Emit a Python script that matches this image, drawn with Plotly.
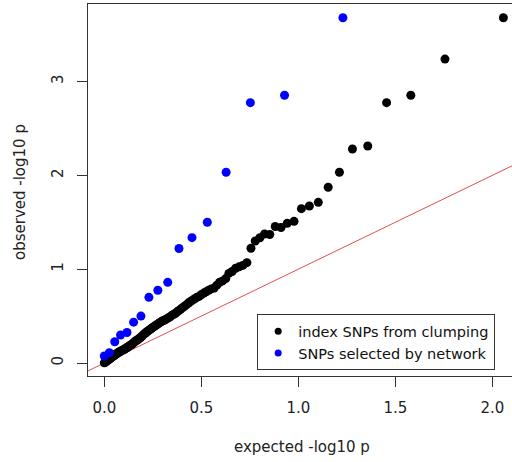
import plotly.graph_objects as go

# Expected -log10 p and observed -log10 p
index_expected = [2.057, 1.756, 1.580, 1.455, 1.358, 1.279, 1.212, 1.154, 1.103, 1.057,
                  1.016, 0.978, 0.943, 0.911, 0.881, 0.853, 0.826, 0.802, 0.778, 0.756,
                  0.735, 0.714, 0.695, 0.677, 0.659, 0.642, 0.626, 0.610, 0.594, 0.580,
                  0.566, 0.552, 0.538, 0.525, 0.513, 0.501, 0.489, 0.477, 0.466, 0.455,
                  0.444, 0.434, 0.423, 0.413, 0.404, 0.394, 0.385, 0.376, 0.367, 0.358,
                  0.349, 0.341, 0.333, 0.325, 0.317, 0.309, 0.301, 0.293, 0.286, 0.279,
                  0.272, 0.265, 0.258, 0.251, 0.244, 0.237, 0.231, 0.224, 0.218, 0.212,
                  0.206, 0.200, 0.194, 0.188, 0.182, 0.176, 0.170, 0.165, 0.159, 0.154,
                  0.148, 0.143, 0.138, 0.133, 0.127, 0.122, 0.117, 0.112, 0.108, 0.103,
                  0.098, 0.093, 0.088, 0.084, 0.079, 0.075, 0.070, 0.066, 0.061, 0.057,
                  0.053, 0.048, 0.044, 0.040, 0.036, 0.032, 0.028, 0.024, 0.020, 0.016,
                  0.012, 0.008, 0.004, 0.000]
index_observed = [3.68, 3.24, 2.854, 2.775, 2.313, 2.281, 2.033, 1.873, 1.713, 1.674,
                  1.645, 1.51, 1.489, 1.445, 1.455, 1.37, 1.375, 1.335, 1.30, 1.223,
                  1.07, 1.04, 1.025, 1.01, 0.975, 0.955, 0.90, 0.875, 0.86, 0.83,
                  0.80, 0.79, 0.775, 0.76, 0.745, 0.73, 0.71, 0.70, 0.685, 0.67,
                  0.655, 0.64, 0.62, 0.605, 0.59, 0.575, 0.56, 0.545, 0.53, 0.52,
                  0.51, 0.495, 0.485, 0.475, 0.465, 0.455, 0.45, 0.44, 0.43, 0.42,
                  0.41, 0.40, 0.39, 0.38, 0.37, 0.36, 0.35, 0.34, 0.33, 0.32,
                  0.31, 0.30, 0.285, 0.275, 0.265, 0.255, 0.245, 0.24, 0.23, 0.22,
                  0.21, 0.20, 0.195, 0.185, 0.18, 0.17, 0.165, 0.16, 0.15, 0.145,
                  0.14, 0.135, 0.13, 0.125, 0.12, 0.115, 0.11, 0.10, 0.095, 0.09,
                  0.085, 0.075, 0.07, 0.065, 0.06, 0.05, 0.045, 0.04, 0.03, 0.025,
                  0.02, 0.012, 0.006, 0.002]

network_expected = [1.230, 0.929, 0.753, 0.628, 0.531, 0.452, 0.385, 0.327, 0.276,
                    0.230, 0.189, 0.151, 0.117, 0.084, 0.054, 0.026, 0.000]
network_observed = [3.68, 2.854, 2.775, 2.033, 1.50, 1.336, 1.22, 0.86, 0.775,
                    0.70, 0.50, 0.435, 0.325, 0.298, 0.227, 0.11, 0.075]

series_names = ["index SNPs from clumping", "SNPs selected by network"]
series_colors = ["black", "#0000ff"]

diag = [-0.2, 2.3]

x_ticks = [0, 0.5, 1, 1.5, 2]
x_ticklabels = ["0.0", "0.5", "1.0", "1.5", "2.0"]
y_ticks = [0, 1, 2, 3]
y_ticklabels = ["0", "1", "2", "3"]

FONT = "DejaVu Sans"
FS = 15

fig = go.Figure()
fig.add_trace(go.Scatter(x=diag, y=diag, mode="lines",
                         line=dict(color="#e05050", width=1), showlegend=False,
                         hoverinfo="skip"))
fig.add_trace(go.Scatter(x=index_expected, y=index_observed, mode="markers",
                         marker=dict(color=series_colors[0], size=9, line=dict(width=0)),
                         name=series_names[0], showlegend=False))
fig.add_trace(go.Scatter(x=network_expected, y=network_observed, mode="markers",
                         marker=dict(color=series_colors[1], size=9, line=dict(width=0)),
                         name=series_names[1], showlegend=False))
# legend entries with the smaller legend dots
for nm, col in zip(series_names, series_colors):
    fig.add_trace(go.Scatter(x=[None], y=[None], mode="markers",
                             marker=dict(color=col, size=7, line=dict(width=0)),
                             name=nm, showlegend=True))

fig.update_layout(
    width=512, height=462,
    margin=dict(l=88, r=0, t=4, b=86),
    paper_bgcolor="white", plot_bgcolor="white",
    font=dict(family=FONT, size=FS, color="black"),
    showlegend=True,
    legend=dict(x=0.399, y=0.166, xanchor="left", yanchor="top",
                bgcolor="white", bordercolor="#333333", borderwidth=1,
                font=dict(family=FONT, size=14.5, color="#111111"),
                itemsizing="trace", tracegroupgap=0, itemwidth=30),
    xaxis=dict(range=[-0.084, 2.1015], showgrid=False, zeroline=False,
               showline=True, mirror=True, linecolor="#333333", linewidth=1,
               ticks="outside", ticklen=10, tickcolor="#333333",
               tickvals=x_ticks, ticktext=x_ticklabels,
               ticklabelstandoff=8,
               tickfont=dict(family=FONT, size=FS, color="#222222")),
    yaxis=dict(range=[-0.1386, 3.827], showgrid=False, zeroline=False,
               showline=True, mirror=False, linecolor="#333333", linewidth=1,
               ticks="outside", ticklen=10, tickcolor="#333333",
               tickvals=y_ticks, ticktext=y_ticklabels, tickangle=-90,
               ticklabelstandoff=8,
               tickfont=dict(family=FONT, size=FS, color="#222222")),
    annotations=[
        dict(text="expected -log10 p", xref="paper", yref="paper",
             x=0.505, y=-0.191, xanchor="center", yanchor="middle",
             showarrow=False, font=dict(family=FONT, size=FS, color="#222222")),
        dict(text="observed -log10 p", xref="paper", yref="paper",
             x=-0.160, y=0.495, xanchor="center", yanchor="middle",
             textangle=-90, showarrow=False,
             font=dict(family=FONT, size=FS, color="#222222")),
    ],
)

fig.write_html("out.html")
